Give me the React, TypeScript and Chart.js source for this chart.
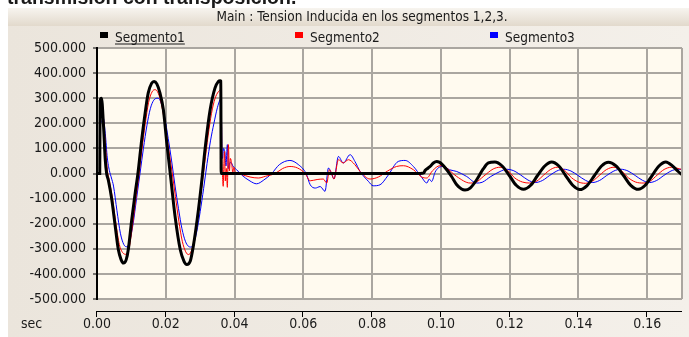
import React, { useEffect, useRef } from "react";
import { Chart, registerables } from "chart.js";

Chart.register(...registerables);

// ---------- data (time in s, voltage shown in the axis units) ----------
const chartTitle = "Main : Tension Inducida en los segmentos 1,2,3.";
const headingText = "transmisión con transposición.";
const xAxisName = "sec";
const seriesNames = ["Segmento1", "Segmento2", "Segmento3"];
const seriesColors = ["#000000", "#ff0000", "#0000ff"];

const segmento1: [number, number][] = [
  [0, 0], [0.0008, 0], [0.0009, 290], [0.0013, 300], [0.0019, 188], [0.0024, 55],
  [0.0028, 0], [0.0033, -27], [0.0043, -104], [0.0053, -210], [0.0062, -303],
  [0.007, -343], [0.0077, -357], [0.0085, -343], [0.0091, -303], [0.0101, -184],
  [0.0111, -78], [0.0119, 0], [0.013, 135], [0.014, 241], [0.0149, 321],
  [0.0159, 360], [0.0166, 367], [0.0174, 357], [0.0183, 321], [0.0193, 254],
  [0.0203, 121], [0.0215, -25], [0.0227, -171], [0.0242, -303], [0.0253, -350],
  [0.0261, -363], [0.0271, -350], [0.028, -290], [0.0295, -144], [0.0305, -25],
  [0.0314, 95], [0.0329, 254], [0.0343, 340], [0.0353, 367], [0.0358, 370],
  [0.036, 368], [0.0361, 0], [0.06, 0], [0.094, 0], [0.095, 2], [0.0954, 12],
  [0.0963, 22], [0.097, 30], [0.0978, 42], [0.0988, 48], [0.0995, 45], [0.1002, 38],
  [0.1017, 15], [0.1031, -12], [0.1046, -45], [0.106, -62], [0.107, -66],
  [0.1085, -58], [0.1104, -25], [0.1123, 18], [0.1138, 42], [0.1157, 46],
  [0.1178, 30], [0.1199, -8], [0.1219, -47], [0.124, -63], [0.1261, -47],
  [0.1281, -8], [0.1302, 30], [0.1322, 46], [0.1343, 30], [0.1363, -9],
  [0.1384, -48], [0.1404, -64], [0.1425, -48], [0.1446, -9], [0.1467, 30],
  [0.1487, 45], [0.1509, 30], [0.1531, -8], [0.1552, -47], [0.1574, -63],
  [0.1594, -47], [0.1614, -8], [0.1634, 30], [0.1654, 46], [0.1675, 28],
  [0.169, 8], [0.1701, -5],
];

const segmento2: [number, number][] = [
  [0, 0], [0.0008, 0], [0.0009, 280], [0.0013, 298], [0.0019, 215], [0.0024, 120],
  [0.003, 15], [0.0036, -30], [0.0045, -100], [0.0055, -200], [0.0065, -283],
  [0.0075, -316], [0.0085, -322], [0.0093, -300], [0.0102, -220], [0.0112, -110],
  [0.0122, -5], [0.013, 90], [0.014, 195], [0.015, 283], [0.016, 325],
  [0.0169, 334], [0.0178, 320], [0.0188, 272], [0.0198, 192], [0.0208, 100],
  [0.0218, 8], [0.0228, -92], [0.0238, -190], [0.0248, -270], [0.0258, -312],
  [0.0266, -323], [0.0274, -310], [0.0283, -262], [0.0293, -172], [0.0303, -70],
  [0.0313, 40], [0.0323, 150], [0.0333, 240], [0.0343, 298], [0.0353, 326],
  [0.0361, 334], [0.0363, 60], [0.0365, -10], [0.0367, -51], [0.0369, 40],
  [0.0371, 88], [0.0373, -30], [0.0376, 20], [0.0379, -55], [0.0382, 115],
  [0.0385, 10], [0.0388, 60], [0.0392, 35], [0.0395, 0], [0.0398, 25],
  [0.0401, 8], [0.042, -4], [0.0445, -14], [0.0469, -18], [0.049, -11],
  [0.0518, 0], [0.054, 20], [0.0561, 28], [0.0583, 22], [0.0605, 0],
  [0.062, -29], [0.064, -24], [0.0658, -22], [0.0668, -38], [0.0676, 15],
  [0.0681, 5], [0.0689, -22], [0.0702, 55], [0.0716, 42], [0.0731, 55],
  [0.075, 35], [0.0765, 8], [0.0794, -22], [0.0818, -14], [0.0845, 10],
  [0.0871, 28], [0.0891, 31], [0.092, 15], [0.0944, -14], [0.0959, -18],
  [0.0975, 10], [0.0997, 31], [0.101, 28], [0.1046, -12], [0.1085, -38],
  [0.11, -36], [0.1125, -10], [0.1152, 18], [0.1172, 25], [0.1194, 12],
  [0.1215, -18], [0.1237, -34], [0.1258, -38], [0.1279, -30], [0.1299, -6],
  [0.1319, 16], [0.1338, 25], [0.1359, 13], [0.138, -17], [0.14, -34],
  [0.142, -39], [0.1441, -30], [0.1462, -6], [0.1482, 16], [0.1503, 25],
  [0.1524, 12], [0.1545, -17], [0.1566, -34], [0.1588, -38], [0.1609, -30],
  [0.1629, -6], [0.1649, 16], [0.167, 25], [0.1701, 16],
];

const segmento3: [number, number][] = [
  [0, 0], [0.0008, 0], [0.0009, 195], [0.0013, 205], [0.0018, 222], [0.0024, 160],
  [0.003, 62], [0.0036, 12], [0.0042, -18], [0.0048, -50], [0.0058, -148],
  [0.0068, -238], [0.0078, -283], [0.0087, -292], [0.0095, -270], [0.0105, -200],
  [0.0115, -100], [0.0125, 0], [0.0135, 100], [0.0145, 190], [0.0155, 258],
  [0.0165, 292], [0.0177, 300], [0.0187, 280], [0.0197, 222], [0.0207, 140],
  [0.0217, 50], [0.0227, -50], [0.0237, -140], [0.0247, -220], [0.0257, -270],
  [0.0265, -289], [0.0273, -293], [0.0281, -280], [0.029, -232], [0.03, -152],
  [0.031, -60], [0.032, 40], [0.033, 130], [0.034, 200], [0.035, 262],
  [0.0358, 295], [0.0361, 300], [0.0363, 120], [0.0365, 60], [0.0368, 100],
  [0.0372, 82], [0.0375, 30], [0.0379, 115], [0.0382, 20], [0.0386, 43],
  [0.039, 43], [0.0395, 30], [0.0406, 15], [0.042, -5], [0.0445, -30],
  [0.0464, -41], [0.0485, -26], [0.0508, 0], [0.053, 35], [0.0561, 52],
  [0.0585, 36], [0.0608, 0], [0.062, -45], [0.0635, -58], [0.0649, -52],
  [0.0663, -71], [0.0673, 22], [0.0683, -5], [0.0689, -22], [0.0702, 68],
  [0.0716, 42], [0.0736, 75], [0.075, 48], [0.0765, 8], [0.0789, -31],
  [0.0803, -49], [0.0823, -45], [0.0845, -10], [0.0876, 48], [0.0896, 52],
  [0.092, 28], [0.0944, -15], [0.0959, -38], [0.0966, -22], [0.0973, -32],
  [0.0983, 5], [0.0992, 22], [0.1007, 28], [0.1025, 15], [0.1046, 8],
  [0.1075, -12], [0.1104, -38], [0.112, -35], [0.1145, -12], [0.1172, 8],
  [0.1191, 17], [0.121, 12], [0.1232, -6], [0.1253, -26], [0.1274, -36],
  [0.1295, -28], [0.1316, -8], [0.1337, 10], [0.1357, 17], [0.1378, 10],
  [0.1399, -8], [0.142, -27], [0.144, -36], [0.1461, -28], [0.1482, -8],
  [0.1503, 10], [0.1523, 17], [0.1544, 10], [0.1565, -8], [0.1586, -27],
  [0.1606, -36], [0.1627, -28], [0.1648, -8], [0.1669, 10], [0.1689, 17],
  [0.1701, 16],
];

const xRange = [0, 0.1701];
const xStep = 0.02;
const yRange = [-500, 500];
const yStep = 100;

// ---------- styling ----------
const FONT = '"DejaVu Sans Condensed", "DejaVu Sans", Tahoma, sans-serif';
const GRID = "#aaa6a0";
const TEXT = "#1a1a1a";

const frame = {
  id: "frame",
  beforeDraw(chart: any) {
    const { ctx, chartArea: a, width, height } = chart;
    ctx.save();
    ctx.fillStyle = "#ffffff";
    ctx.fillRect(0, 0, width, height);
    const g = ctx.createLinearGradient(8, 0, width, 0);
    g.addColorStop(0, "#ebe5dc");
    g.addColorStop(1, "#f4f0ea");
    ctx.fillStyle = g;
    ctx.fillRect(8, 26, width - 8, height - 26);
    const b = ctx.createLinearGradient(0, 8, 0, 26);
    b.addColorStop(0, "#f7f4ef");
    b.addColorStop(1, "#e2d9cc");
    ctx.fillStyle = b;
    ctx.fillRect(8, 8, width - 8, 18);
    ctx.fillStyle = "#fffaef";
    ctx.fillRect(a.left, a.top, a.right - a.left, a.bottom - a.top);

    // title
    ctx.fillStyle = TEXT;
    ctx.font = `13.5px ${FONT}`;
    ctx.textAlign = "center";
    ctx.textBaseline = "alphabetic";
    ctx.fillText(chartTitle, 362, 21);

    // legend
    ctx.textAlign = "left";
    ctx.font = `13.5px ${FONT}`;
    chart.data.datasets.forEach((ds: any, i: number) => {
      const x0 = 100 + i * 195;
      ctx.fillStyle = ds.borderColor;
      ctx.fillRect(x0, 32, 8, 6);
      ctx.fillStyle = TEXT;
      ctx.fillText(ds.label, x0 + 15, 42);
      if (i === 0) {
        const w = ctx.measureText(ds.label).width;
        ctx.fillRect(x0 + 15, 43.5, w, 1);
      }
    });

    // x axis name
    ctx.font = `14px ${FONT}`;
    ctx.textBaseline = "middle";
    ctx.fillText(xAxisName, 21, 324);
    ctx.restore();
  },
  afterDraw(chart: any) {
    const { ctx, chartArea: a, scales } = chart;
    const xs = scales.x;
    ctx.save();
    // right border of plot
    ctx.strokeStyle = GRID;
    ctx.lineWidth = 2;
    ctx.beginPath();
    ctx.moveTo(a.right, a.top);
    ctx.lineTo(a.right, a.bottom);
    ctx.stroke();
    // detached x axis line and ticks
    ctx.strokeStyle = "#000";
    ctx.lineWidth = 1;
    ctx.beginPath();
    ctx.moveTo(a.left - 1, 311.5);
    ctx.lineTo(a.right, 311.5);
    xs.ticks.forEach((t: any) => {
      const px = Math.round(xs.getPixelForValue(t.value)) - 0.5;
      ctx.moveTo(px, 311.5);
      ctx.lineTo(px, 317);
    });
    ctx.stroke();
    ctx.restore();
  },
};

export default function App() {
  const ref = useRef<HTMLCanvasElement | null>(null);

  useEffect(() => {
    if (!ref.current) return;
    const toPts = (arr: [number, number][]) => arr.map(([x, y]) => ({ x, y }));
    const chart = new Chart(ref.current, {
      type: "line",
      data: {
        datasets: [segmento1, segmento2, segmento3].map((s, i) => ({
          label: seriesNames[i],
          data: toPts(s),
          borderColor: seriesColors[i],
          backgroundColor: seriesColors[i],
          borderWidth: i === 0 ? 3 : 1,
          pointRadius: 0,
          cubicInterpolationMode: "monotone" as const,
          fill: false,
        })),
      },
      options: {
        animation: false,
        responsive: false,
        devicePixelRatio: 1,
        layout: { padding: { top: 48, right: 7, left: 0, bottom: 0 } },
        plugins: {
          legend: { display: false },
          title: { display: false },
          tooltip: { enabled: false },
        },
        scales: {
          x: {
            type: "linear",
            min: xRange[0],
            max: xRange[1],
            afterFit: (s: any) => {
              s.height = 38;
            },
            grid: { color: GRID, lineWidth: 2, drawTicks: false },
            border: { display: false },
            ticks: {
              stepSize: xStep,
              includeBounds: false,
              padding: 17,
              color: TEXT,
              maxRotation: 0,
              autoSkip: false,
              font: { family: FONT, size: 14 },
              callback: (v: any) => Number(v).toFixed(2),
            },
          },
          y: {
            type: "linear",
            min: yRange[0],
            max: yRange[1],
            afterFit: (s: any) => {
              s.width = 97;
            },
            grid: { color: GRID, lineWidth: 2, tickColor: "#000", tickLength: 4, tickWidth: 1 },
            border: { color: "#000", width: 2 },
            ticks: {
              stepSize: yStep,
              padding: 7,
              color: TEXT,
              font: { family: FONT, size: 14 },
              callback: (v: any) => Number(v).toFixed(3),
            },
          },
        },
      },
      plugins: [frame],
    });
    return () => chart.destroy();
  }, []);

  return (
    <div
      style={{
        position: "fixed",
        left: 0,
        top: 0,
        width: 689,
        height: 337,
        overflow: "hidden",
        background: "#fff",
      }}
    >
      <canvas
        ref={ref}
        width={689}
        height={337}
        style={{ position: "absolute", left: 0, top: 0, width: 689, height: 337 }}
      />
      <div
        style={{
          position: "absolute",
          left: 7,
          top: -13,
          font: 'bold 19.5px "Liberation Sans", Arial, sans-serif',
          lineHeight: "20px",
          color: "#1a1a1a",
          whiteSpace: "nowrap",
        }}
      >
        {headingText}
      </div>
    </div>
  );
}
